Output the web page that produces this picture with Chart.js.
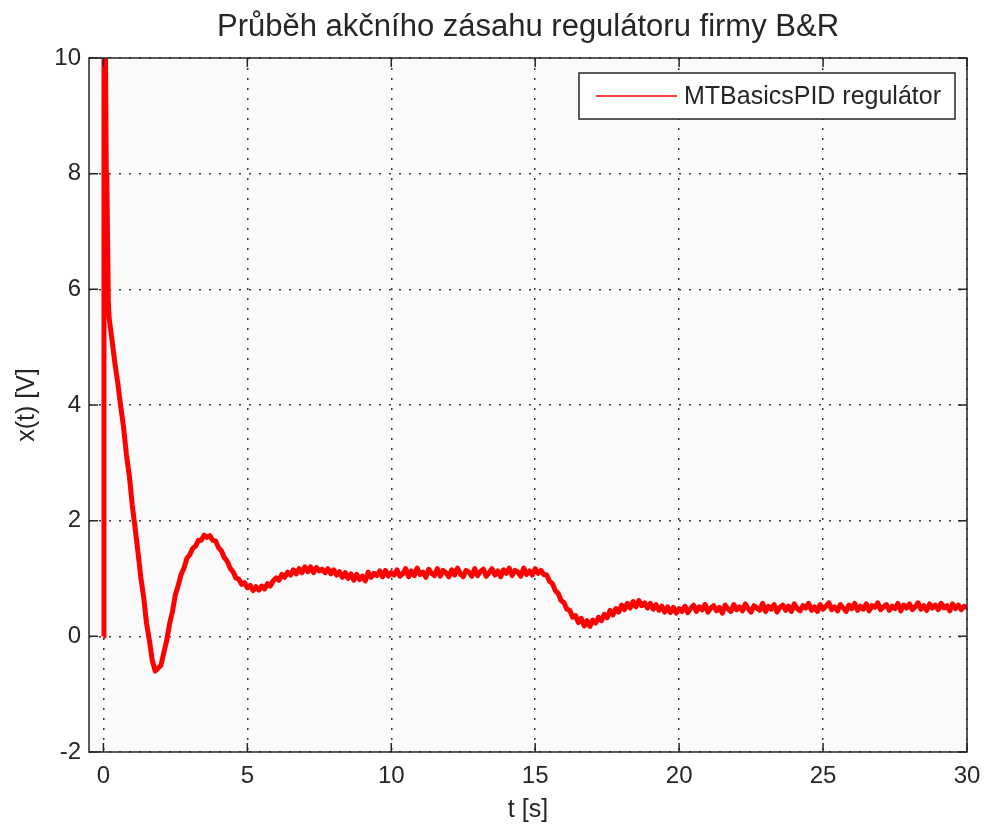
<!DOCTYPE html>
<html>
<head>
<meta charset="utf-8">
<title>Průběh akčního zásahu regulátoru firmy B&amp;R</title>
<script src="https://cdn.jsdelivr.net/npm/chart.js@4/dist/chart.umd.min.js"></script>
<style>
  body { margin: 0; background: #ffffff; }
  canvas { display: block; }
</style>
</head>
<body>
<canvas id="chart" width="987" height="830"></canvas>
<script>
// axis setup
const xTickValues = [0, 5, 10, 15, 20, 25, 30];
const yTickValues = [-2, 0, 2, 4, 6, 8, 10];

// start of the step response (irregular samples)
const initialTime = [0, 0.02, 0.1, 0.12, 0.17];
const initialVoltage = [0, 14, 8.0, 7.9, 5.8];

const sampleStart = 0.2;
const sampleStep = 0.1;
const sampledVoltage = [
  5.5, 5.12, 4.72, 4.38, 3.98, 3.62, 3.14, 2.78, 2.28, 1.88,
  1.46, 1.02, 0.67, 0.22, -0.08, -0.42, -0.6, -0.55, -0.5, -0.28,
  -0.07, 0.22, 0.43, 0.72, 0.88, 1.07, 1.18, 1.35, 1.41, 1.52,
  1.56, 1.66, 1.66, 1.75, 1.71, 1.74, 1.66, 1.65, 1.53, 1.48,
  1.36, 1.3, 1.18, 1.12, 1.01, 0.99, 0.9, 0.93, 0.84, 0.88,
  0.79, 0.86, 0.8, 0.87, 0.82, 0.91, 0.87, 0.96, 1.01, 0.97,
  1.07, 1.02, 1.11, 1.06, 1.15, 1.08, 1.17, 1.1, 1.2, 1.12,
  1.2, 1.1, 1.19, 1.13, 1.16, 1.1, 1.17, 1.08, 1.15, 1.06,
  1.12, 1.02, 1.1, 1.0, 1.08, 0.97, 1.07, 0.98, 1.04, 0.96,
  1.11, 1.02, 1.09, 1.05, 1.13, 1.03, 1.14, 1.04, 1.1, 1.06,
  1.15, 1.04, 1.08, 1.17, 1.03, 1.13, 1.05, 1.18, 1.07, 1.11,
  1.02, 1.16, 1.09, 1.05, 1.17, 1.04, 1.14, 1.1, 1.03, 1.15,
  1.06, 1.18, 1.08, 1.03, 1.14, 1.11, 1.04, 1.17, 1.05, 1.12,
  1.16, 1.04, 1.1, 1.17, 1.06, 1.13, 1.03, 1.15, 1.09, 1.18,
  1.05, 1.14, 1.11, 1.04, 1.18, 1.07, 1.13, 1.06, 1.17, 1.09,
  1.14, 1.07, 1.06, 0.95, 0.91, 0.79, 0.74, 0.62, 0.58, 0.47,
  0.45, 0.33, 0.36, 0.24, 0.31, 0.18, 0.27, 0.17, 0.28, 0.23,
  0.33, 0.27, 0.38, 0.32, 0.45, 0.37, 0.48, 0.42, 0.54, 0.46,
  0.57, 0.49, 0.6, 0.51, 0.62, 0.53, 0.58, 0.49, 0.57, 0.47,
  0.55, 0.45, 0.52, 0.42, 0.51, 0.41, 0.5, 0.4, 0.48, 0.43,
  0.52, 0.41, 0.48, 0.54, 0.43, 0.51, 0.46, 0.55, 0.42, 0.49,
  0.53, 0.44, 0.5, 0.4, 0.54, 0.47, 0.43, 0.55, 0.46, 0.51,
  0.44, 0.56, 0.48, 0.42, 0.53, 0.49, 0.45, 0.57, 0.43, 0.52,
  0.47, 0.55, 0.42, 0.5, 0.54, 0.45, 0.52, 0.43, 0.56, 0.48,
  0.44, 0.53, 0.49, 0.57, 0.45, 0.51, 0.43, 0.55, 0.47, 0.52,
  0.58, 0.46, 0.51, 0.44, 0.55, 0.49, 0.43, 0.54, 0.48, 0.57,
  0.45, 0.52, 0.47, 0.56, 0.44, 0.53, 0.5, 0.58, 0.46, 0.51,
  0.55, 0.45, 0.52, 0.48, 0.57, 0.44, 0.54, 0.49, 0.56, 0.46,
  0.51, 0.58, 0.47, 0.53, 0.45, 0.56, 0.49, 0.54, 0.46, 0.57,
  0.49, 0.53, 0.44, 0.56, 0.48, 0.54, 0.46, 0.52, 0.5
];

const FONT = "'Liberation Sans', Arial, sans-serif";
const INK = "#262626";

// build {x, y} points
const points = initialTime.map((t, i) => ({ x: t, y: initialVoltage[i] }));
sampledVoltage.forEach((v, i) => {
  points.push({ x: +(sampleStart + i * sampleStep).toFixed(2), y: v });
});

// plot background, box with inward ticks, title, axis labels, legend
const matlabLook = {
  id: "matlabLook",
  beforeDraw(chart) {
    const { ctx, chartArea: a } = chart;
    ctx.save();
    ctx.fillStyle = "#fafafa";
    ctx.fillRect(a.left, a.top, a.right - a.left, a.bottom - a.top);
    ctx.restore();
  },
  afterDraw(chart) {
    const { ctx, chartArea: a, scales } = chart;
    const tick = 9;
    ctx.save();
    ctx.strokeStyle = INK;
    ctx.lineWidth = 1.5;
    ctx.strokeRect(a.left, a.top, a.right - a.left, a.bottom - a.top);

    ctx.beginPath();
    xTickValues.forEach((v) => {
      const px = scales.x.getPixelForValue(v);
      ctx.moveTo(px, a.bottom); ctx.lineTo(px, a.bottom - tick);
      ctx.moveTo(px, a.top); ctx.lineTo(px, a.top + tick);
    });
    yTickValues.forEach((v) => {
      const py = scales.y.getPixelForValue(v);
      ctx.moveTo(a.left, py); ctx.lineTo(a.left + tick, py);
      ctx.moveTo(a.right, py); ctx.lineTo(a.right - tick, py);
    });
    ctx.stroke();

    // title
    ctx.fillStyle = INK;
    ctx.textAlign = "center";
    ctx.textBaseline = "middle";
    ctx.font = "31px " + FONT;
    ctx.fillText("Průběh akčního zásahu regulátoru firmy B&R", (a.left + a.right) / 2, 27);

    // axis labels
    ctx.font = "25px " + FONT;
    ctx.fillText("t [s]", (a.left + a.right) / 2, 810);
    ctx.save();
    ctx.translate(27, (a.top + a.bottom) / 2);
    ctx.rotate(-Math.PI / 2);
    ctx.fillText("x(t) [V]", 0, 0);
    ctx.restore();

    // legend
    const ds = chart.data.datasets[0];
    ctx.font = "25px " + FONT;
    const textW = ctx.measureText(ds.label).width;
    const boxW = 17 + 81 + 7 + textW + 14;
    const boxH = 46;
    const bx = a.right - 12 - boxW;
    const by = a.top + 15;
    ctx.fillStyle = "#ffffff";
    ctx.fillRect(bx, by, boxW, boxH);
    ctx.strokeStyle = INK;
    ctx.lineWidth = 1.5;
    ctx.strokeRect(bx, by, boxW, boxH);
    ctx.strokeStyle = ds.borderColor;
    ctx.lineWidth = 1.5;
    ctx.beginPath();
    ctx.moveTo(bx + 17, by + boxH / 2);
    ctx.lineTo(bx + 98, by + boxH / 2);
    ctx.stroke();
    ctx.fillStyle = INK;
    ctx.textAlign = "left";
    ctx.fillText(ds.label, bx + 105, by + boxH / 2 + 1);
    ctx.restore();
  },
};

new Chart(document.getElementById("chart").getContext("2d"), {
  type: "line",
  data: {
    datasets: [{
      label: "MTBasicsPID regulátor",
      data: points,
      borderColor: "#ff0000",
      borderWidth: 5,
      borderJoinStyle: "round",
      pointRadius: 0,
      tension: 0,
      fill: false,
    }],
  },
  options: {
    responsive: false,
    animation: false,
    layout: { padding: { top: 58, right: 20, bottom: 0, left: 0 } },
    plugins: {
      legend: { display: false },
      title: { display: false },
      tooltip: { enabled: false },
    },
    scales: {
      x: {
        type: "linear",
        min: -0.5,
        max: 30,
        afterBuildTicks: (scale) => { scale.ticks = xTickValues.map((v) => ({ value: v })); },
        afterFit: (scale) => {
          scale.height = 78;
          scale.paddingLeft = 0;
          scale.paddingRight = 0;
        },
        ticks: { color: INK, font: { family: FONT, size: 24 }, padding: 10, maxRotation: 0 },
        grid: { color: "#3a3a3a", lineWidth: 1.5, drawTicks: false },
        border: { display: false, dash: [2, 8] },
      },
      y: {
        type: "linear",
        min: -2,
        max: 10,
        afterBuildTicks: (scale) => { scale.ticks = yTickValues.map((v) => ({ value: v })); },
        afterFit: (scale) => {
          scale.width = 89;
          scale.paddingTop = 0;
          scale.paddingBottom = 0;
        },
        ticks: { color: INK, font: { family: FONT, size: 24 }, padding: 8 },
        grid: { color: "#3a3a3a", lineWidth: 1.5, drawTicks: false },
        border: { display: false, dash: [2, 8] },
      },
    },
  },
  plugins: [matlabLook],
});
</script>
</body>
</html>
